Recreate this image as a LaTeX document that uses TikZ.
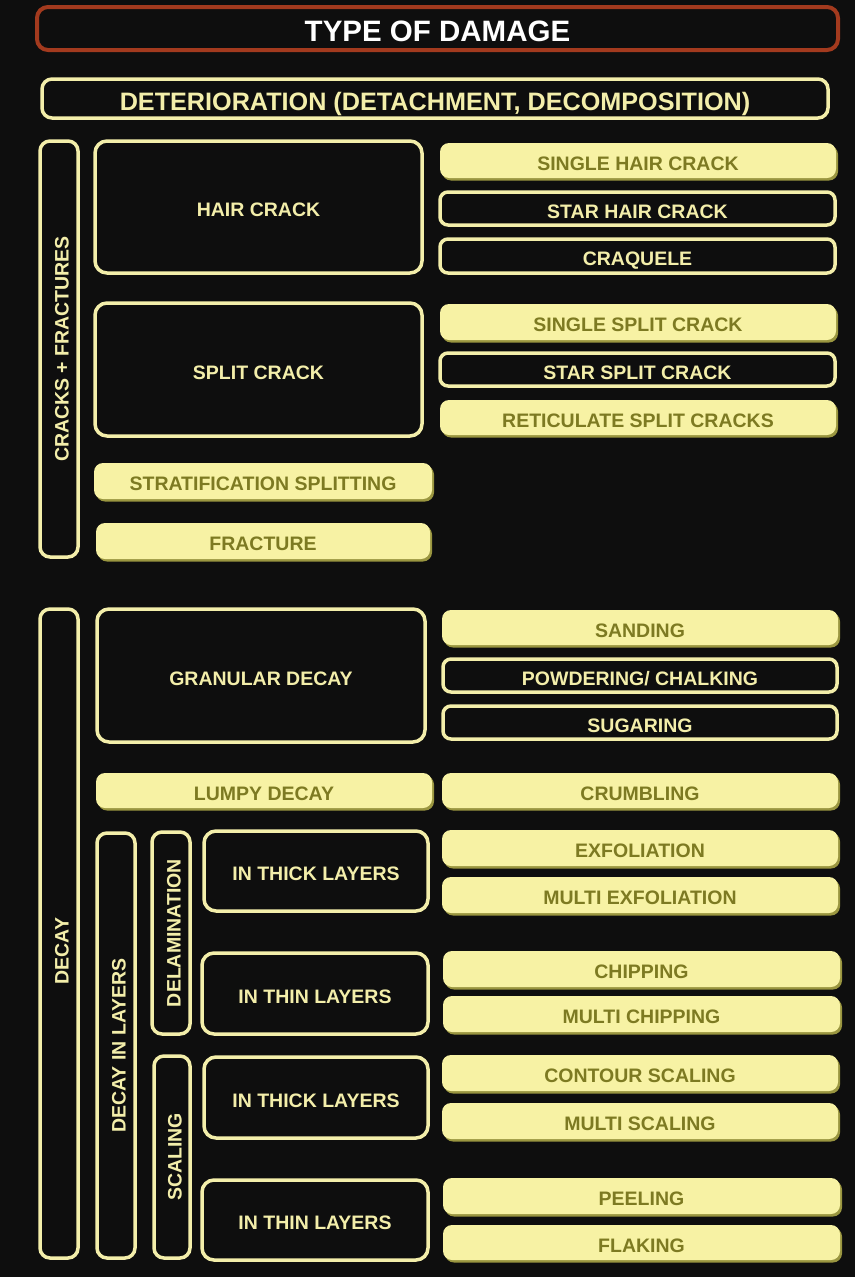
\documentclass[tikz,border=0pt]{standalone}
\usepackage{fontspec}
\setmainfont{Liberation Sans}
\usetikzlibrary{shadows}
\definecolor{bgcol}{HTML}{0E0E0E}
\definecolor{yel}{HTML}{F3EEAA}
\definecolor{fillyel}{HTML}{F7F2A4}
\definecolor{olivetxt}{HTML}{7D7A22}
\definecolor{shadowcol}{HTML}{9A9640}
\definecolor{rust}{HTML}{A33A1E}
\newcommand\bx[7]{%
 \pgfmathsetmacro\bxW{#5-#3}\pgfmathsetmacro\bxH{#6-#4}%
 \pgfmathsetmacro\bxX{(#3+#5)/2}\pgfmathsetmacro\bxY{(#4+#6)/2}%
 \node[#1, minimum width=\bxW pt, minimum height=\bxH pt] (#2) at (\bxX,\bxY) {#7};}
\begin{document}
\begin{tikzpicture}[x=1pt,y=-1pt,
  basebox/.style={rectangle, inner sep=0pt, text height=19pt, text depth=0pt, font=\fontsize{19.5}{22}\selectfont\bfseries},
  obox/.style={basebox, draw=yel, line width=3.5pt, rounded corners=12pt, text=yel, fill=bgcol},
  osmall/.style={obox, rounded corners=8pt},
  fbox/.style={basebox, fill=fillyel, rounded corners=9pt, text=olivetxt,
     drop shadow={shadow xshift=2pt, shadow yshift=-2.5pt, fill=shadowcol, opacity=1}},
  vbox/.style={obox, rounded corners=10pt},
  vlab/.style={font=\fontsize{19.5}{22}\selectfont\bfseries, text=yel, rotate=90, inner sep=0pt, text height=19pt, text depth=0pt}]
\fill[bgcol] (0,0) rectangle (855,1277);
\useasboundingbox (0,0) rectangle (855,1277);

% title
\bx{basebox, draw=rust, line width=4pt, rounded corners=11pt, text=white, text height=25pt, font=\fontsize{29.5}{32}\selectfont\bfseries}{title}{37}{7}{838}{50}{TYPE OF DAMAGE}
\bx{obox, rounded corners=10pt, text height=23pt, font=\fontsize{25.2}{28}\selectfont\bfseries}{det}{42}{79}{828}{118}{DETERIORATION (DETACHMENT, DECOMPOSITION)}

% cracks + fractures
\bx{vbox}{cf}{40}{141}{78}{557}{}
\node[vlab] (cflab) at (cf) {CRACKS + FRACTURES};
\bx{obox}{hair}{95}{141}{422}{273}{HAIR CRACK}
\bx{obox}{split}{95}{303}{422}{436}{SPLIT CRACK}
\bx{fbox}{strat}{94}{463}{432}{499}{STRATIFICATION SPLITTING}
\bx{fbox}{frac}{96}{523}{430}{559}{FRACTURE}

\bx{fbox}{shc}{440}{143}{836}{178}{SINGLE HAIR CRACK}
\bx{osmall}{sthc}{440}{192}{835}{225}{STAR HAIR CRACK}
\bx{osmall}{craq}{440}{239}{835}{273}{CRAQUELE}
\bx{fbox}{ssc}{440}{304}{836}{340}{SINGLE SPLIT CRACK}
\bx{osmall}{stsc}{440}{353}{835}{386}{STAR SPLIT CRACK}
\bx{fbox}{rsc}{440}{400}{836}{435}{RETICULATE SPLIT CRACKS}

% decay
\bx{vbox}{decay}{40}{609}{78}{1258}{}
\node[vlab] (decaylab) at (59,951) {DECAY};
\bx{obox}{gran}{97}{609}{425}{742}{GRANULAR DECAY}
\bx{fbox}{sand}{442}{610}{838}{645}{SANDING}
\bx{osmall}{powd}{443}{659}{837}{692}{POWDERING/ CHALKING}
\bx{osmall}{sug}{443}{706}{837}{739}{SUGARING}
\bx{fbox}{lumpy}{96}{773}{432}{808}{LUMPY DECAY}
\bx{fbox}{crumb}{442}{773}{838}{808}{CRUMBLING}

\bx{vbox}{dil}{97}{833}{135}{1258}{}
\node[vlab] (dillab) at (dil) {DECAY IN LAYERS};
\bx{vbox}{delam}{152}{832}{190}{1034}{}
\node[vlab] (delamlab) at (delam) {DELAMINATION};
\bx{vbox}{scal}{154}{1056}{190}{1258}{}
\node[vlab] (scallab) at (scal) {SCALING};

\bx{obox}{thick1}{204}{831}{428}{911}{IN THICK LAYERS}
\bx{obox}{thin1}{202}{953}{428}{1034}{IN THIN LAYERS}
\bx{obox}{thick2}{204}{1057}{428}{1138}{IN THICK LAYERS}
\bx{obox}{thin2}{202}{1180}{428}{1260}{IN THIN LAYERS}

\bx{fbox}{exf}{442}{830}{838}{866}{EXFOLIATION}
\bx{fbox}{mexf}{442}{877}{838}{913}{MULTI EXFOLIATION}
\bx{fbox}{chip}{443}{951}{840}{987}{CHIPPING}
\bx{fbox}{mchip}{443}{996}{840}{1032}{MULTI CHIPPING}
\bx{fbox}{cont}{442}{1055}{838}{1091}{CONTOUR SCALING}
\bx{fbox}{mscal}{442}{1103}{838}{1139}{MULTI SCALING}
\bx{fbox}{peel}{443}{1178}{840}{1214}{PEELING}
\bx{fbox}{flak}{443}{1225}{840}{1260}{FLAKING}
\end{tikzpicture}
\end{document}
